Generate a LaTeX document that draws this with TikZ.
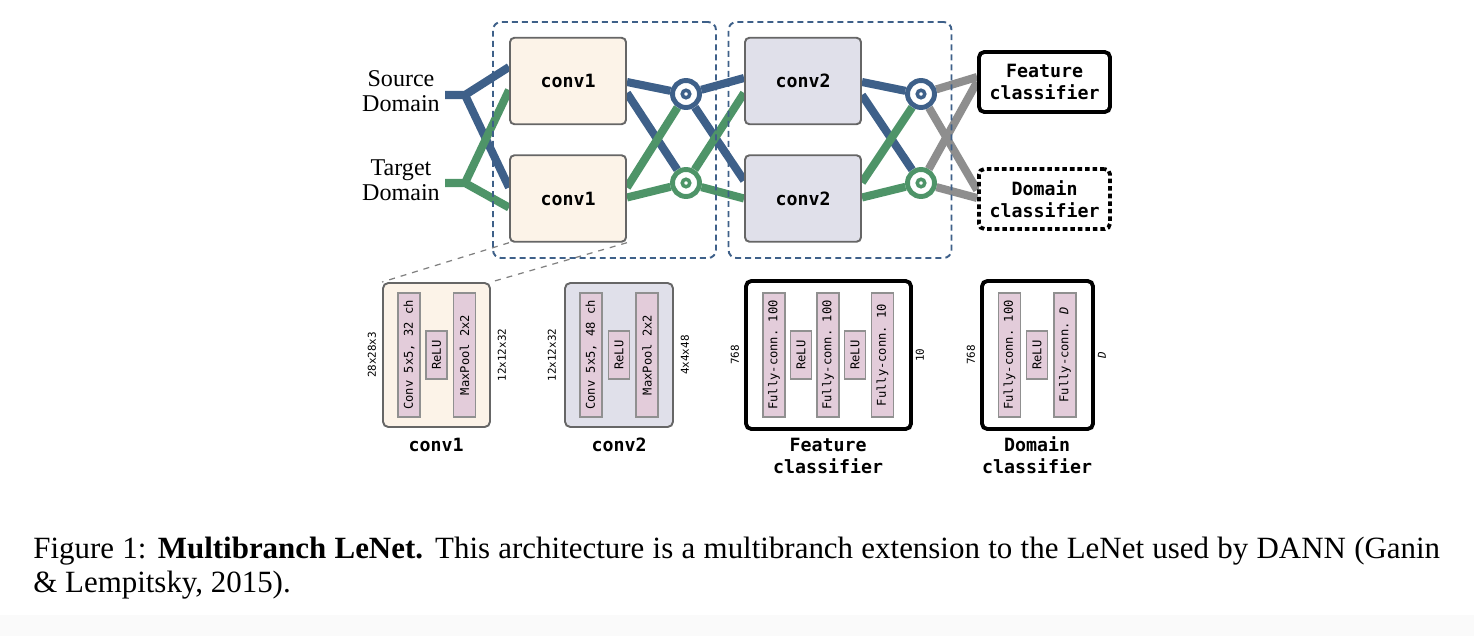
\documentclass[tikz,border=0pt]{standalone}
\usepackage{fontspec}
\setmainfont{Liberation Serif}
\setmonofont{DejaVu Sans Mono}
\usetikzlibrary{calc}
\definecolor{srcblue}{RGB}{62,96,137}
\definecolor{tgtgreen}{RGB}{78,148,104}
\definecolor{clsgray}{RGB}{142,142,142}
\definecolor{convone}{RGB}{252,243,232}
\definecolor{convtwo}{RGB}{224,224,234}
\definecolor{layerpink}{RGB}{227,204,218}
\definecolor{edgegray}{RGB}{102,102,102}
\definecolor{bargray}{RGB}{144,144,144}
\definecolor{stripgray}{RGB}{250,250,250}
\pgfdeclarelayer{bg}
\pgfsetlayers{bg,main}
\tikzstyle{stage}=[draw=edgegray,line width=1.1pt,rounded corners=2.5pt,minimum width=2.32cm,minimum height=1.73cm,font=\fontsize{10.4}{12.5}\selectfont\ttfamily\bfseries]
\tikzstyle{headbox}=[draw=black,line width=2.2pt,rounded corners=3pt,fill=white,minimum width=2.62cm,minimum height=1.2cm,align=center,inner sep=0pt,font=\fontsize{10.4}{12.5}\selectfont\ttfamily\bfseries]
\tikzstyle{groupbox}=[draw=srcblue,line width=1.1pt,dash pattern=on 3.4pt off 2.3pt,rounded corners=4.5pt,minimum width=4.46cm,minimum height=4.72cm]
\tikzstyle{wire}=[line width=4.6pt]
\tikzstyle{detailbox}=[line width=1.1pt,rounded corners=3pt,minimum height=2.88cm]
\tikzstyle{layerbar}=[draw=bargray,fill=layerpink,line width=0.7pt,rotate=90,inner sep=0pt,minimum width=2.48cm,minimum height=0.44cm,font=\fontsize{6.9}{8}\selectfont\ttfamily]
\tikzstyle{relubar}=[layerbar,minimum width=0.96cm,minimum height=0.42cm]
\tikzstyle{dimlabel}=[rotate=90,inner sep=0pt,font=\fontsize{6.2}{7}\selectfont\ttfamily]
\tikzstyle{stagetitle}=[align=center,inner sep=0pt,font=\fontsize{10.4}{12.5}\selectfont\ttfamily\bfseries]
\tikzstyle{domainlabel}=[align=center,inner sep=0pt,font=\fontsize{13.7}{14.2}\selectfont]
\tikzstyle{captext}=[anchor=base west,inner sep=0pt,font=\fontsize{17.6}{20}\selectfont]
\tikzset{mixer/.style={circle,draw=#1,fill=white,line width=2.8pt,minimum size=0.54cm,inner sep=0pt,
  path picture={\draw[#1,line width=2pt] (path picture bounding box.center) circle (0.075cm);}}}

\begin{document}
\begin{tikzpicture}[x=0.02cm,y=-0.02cm]
\useasboundingbox (0,0) rectangle (1474,636);
\fill[stripgray] (0,615) rectangle (1474,636);
  \node[domainlabel] (src) at (401,91.5) {Source\\Domain};
  \node[domainlabel] (tgt) at (401,180) {Target\\Domain};
  \coordinate (s0) at (445,95);
  \coordinate (sj) at (465,95);
  \coordinate (t0) at (445,183);
  \coordinate (tj) at (465,183);
  \node[groupbox] (g1) at (604.5,140) {};
  \node[groupbox] (g2) at (840,140) {};
  \foreach \place/\name/\txt in {{(568,81)/c1a/conv1},
                                 {(568,198.5)/c1b/conv1}}
    \node[stage,fill=convone] (\name) at \place {\txt};
  \foreach \place/\name/\txt in {{(803,81)/c2a/conv2},
                                 {(803,198.5)/c2b/conv2}}
    \node[stage,fill=convtwo] (\name) at \place {\txt};
  \node[headbox] (fc) at (1044.5,82) {Feature\\classifier};
  \node[headbox,dash pattern=on 2.6pt off 1.7pt] (dc) at (1044.5,199) {Domain\\classifier};
  \foreach \place/\name in {{(686,94)/m1a},{(921,94)/m2a}}
    \node[mixer=srcblue] (\name) at \place {};
  \foreach \place/\name in {{(686,183)/m1b},{(921,183)/m2b}}
    \node[mixer=tgtgreen] (\name) at \place {};
  \foreach \n/\at/\dy in {c1a-w1/c1a.west/-14, c1a-w2/c1a.west/9,
                          c1b-w1/c1b.west/-11, c1b-w2/c1b.west/9,
                          c1a-e1/c1a.east/1, c1a-e2/c1a.east/12,
                          c1b-e1/c1b.east/-11, c1b-e2/c1b.east/-1,
                          c2a-w1/c2a.west/-3, c2a-w2/c2a.west/12,
                          c2b-w1/c2b.west/-18, c2b-w2/c2b.west/0,
                          c2a-e1/c2a.east/1, c2a-e2/c2a.east/14,
                          c2b-e1/c2b.east/-16, c2b-e2/c2b.east/-1,
                          fc-w1/fc.west/-5, fc-w2/fc.west/0,
                          dc-w1/dc.west/-9, dc-w2/dc.west/-1}
    \coordinate (\n) at ($(\at)+(0,\dy)$);
  \begin{pgfonlayer}{bg}
    \draw[wire,srcblue] (s0) -- (sj) (c1a-w1) -- (sj) -- (c1b-w1);
    \draw[wire,tgtgreen] (t0) -- (tj) (c1a-w2) -- (tj) -- (c1b-w2);
    \foreach \source/\dest in {c1a-e1/m1a,c1a-e2/m1b,m1a/c2a-w1,m1a/c2b-w1,c2a-e1/m2a,c2a-e2/m2b}
      \path[wire,draw=srcblue] (\source) edge (\dest);
    \foreach \source/\dest in {c1b-e1/m1a,c1b-e2/m1b,m1b/c2a-w2,m1b/c2b-w2,c2b-e1/m2a,c2b-e2/m2b}
      \path[wire,draw=tgtgreen] (\source) edge (\dest);
    \foreach \source/\dest in {m2a/fc-w1,m2a/dc-w1,m2b/fc-w2,m2b/dc-w2}
      \path[wire,draw=clsgray] (\source) edge (\dest);
  \end{pgfonlayer}
  \node[detailbox,draw=edgegray,fill=convone,minimum width=2.14cm] (d1) at (436.5,355) {};
  \node[detailbox,draw=edgegray,fill=convtwo,minimum width=2.16cm] (d2) at (619,355) {};
  \node[detailbox,draw=black,line width=2.2pt,fill=white,minimum width=3.3cm,minimum height=2.96cm] (d3) at (828.5,355) {};
  \node[detailbox,draw=black,line width=2.2pt,fill=white,minimum width=2.22cm,minimum height=2.96cm] (d4) at (1037.5,355) {};
  \begin{pgfonlayer}{bg}
    \path[draw=gray,line width=0.7pt,dash pattern=on 3.4pt off 3.4pt] (c1b.south west) edge (d1.north west)
      (c1b.south east) edge (d1.north east);
  \end{pgfonlayer}
  \foreach \place/\name/\txt in {{(409,355)/b11/{Conv 5x5, 32 ch}},
                                 {(464.5,355)/b13/{MaxPool 2x2}},
                                 {(591,355)/b21/{Conv 5x5, 48 ch}},
                                 {(647,355)/b23/{MaxPool 2x2}},
                                 {(774,355)/b31/{Fully-conn. 100}},
                                 {(828,355)/b33/{Fully-conn. 100}},
                                 {(882.5,355)/b35/{Fully-conn. 10}},
                                 {(1009.5,355)/b41/{Fully-conn. 100}},
                                 {(1065,355)/b43/{Fully-conn. \textit{D}}}}
    \node[layerbar] (\name) at \place {\txt};
  \foreach \place/\name in {{(436.5,355)/b12},{(619,355)/b22},{(801,355)/b32},
                            {(855,355)/b34},{(1037,355)/b42}}
    \node[relubar] (\name) at \place {ReLU};
  \foreach \place/\name/\txt in {{(372,355)/i1/28x28x3},
                                 {(502,355)/o1/12x12x32},
                                 {(552,355)/i2/12x12x32},
                                 {(685,355)/o2/4x4x48},
                                 {(735,355)/i3/768},
                                 {(920,355)/o3/10},
                                 {(971,355)/i4/768},
                                 {(1102,355)/o4/\textit{D}}}
    \node[dimlabel] (\name) at \place {\txt};
  \node[stagetitle] (t1) at (436,445) {conv1};
  \node[stagetitle] (t2) at (619,445) {conv2};
  \node[stagetitle] (t3) at (828,455.5) {Feature\\classifier};
  \node[stagetitle] (t4) at (1037,455.5) {Domain\\classifier};
  \node[captext] (cap1) at (33,558) {\makebox[28.14cm][s]{Figure 1: \textbf{Multibranch LeNet.} This architecture is a multibranch extension to the LeNet used by DANN (Ganin}};
  \node[captext] (cap2) at (33,592) {\& Lempitsky, 2015).};
\end{tikzpicture}
\end{document}
